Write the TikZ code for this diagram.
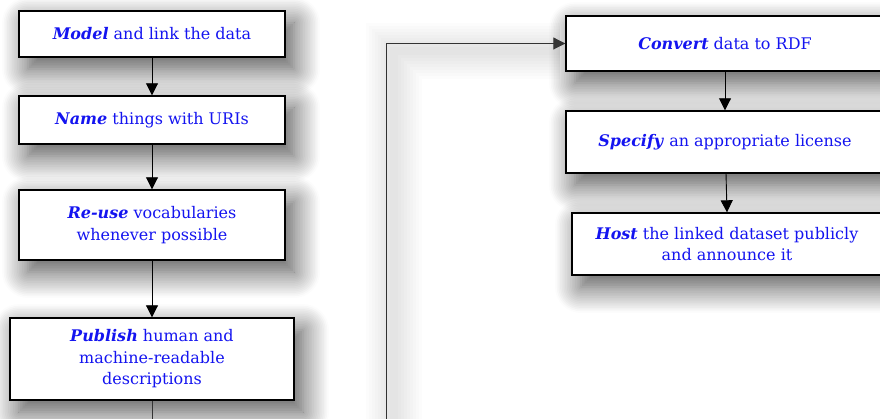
\documentclass[tikz,border=0pt]{standalone}
\usepackage{fontspec}
\setmainfont{DejaVu Serif}
\usetikzlibrary{arrows.meta,shadows.blur}
\definecolor{txtblue}{RGB}{20,20,240}
\tikzset{
  stepbox/.style={draw=black, line width=1.4pt, fill=white, align=center,
    font=\fontsize{16}{21.5}\selectfont, text=txtblue, inner sep=2pt,
    blur shadow={shadow xshift=9pt, shadow yshift=-12pt, shadow blur radius=26pt,
      shadow blur steps=16, shadow opacity=70}},
  flow/.style={draw=black, line width=0.9pt, -{Triangle[length=12pt,width=12pt]}},
  loop/.style={draw=black!80, line width=0.9pt, -{Triangle[length=12pt,width=12pt]}},
}
\newcommand{\kw}[1]{\textbf{\textit{#1}}}
\begin{document}
\begin{tikzpicture}[x=1pt,y=-1pt]
\useasboundingbox (0,0) rectangle (880,419);
\clip (0,0) rectangle (880,419);
% faint shadow of the loop line
\foreach \w in {56,50,...,8}{
  \draw[black, opacity=0.012, line width=\w pt] (394,460) -- (394,51) -- (560,51);
}
\node[stepbox, minimum width=266pt, minimum height=46pt] (model) at (152,34) {\kw{Model} and link the data};
\node[stepbox, minimum width=266pt, minimum height=48pt] (name) at (152,120) {\kw{Name} things with URIs};
\node[stepbox, minimum width=266pt, minimum height=70pt] (reuse) at (152,225) {\kw{Re-use} vocabularies\\whenever possible};
\node[stepbox, minimum width=284pt, minimum height=82pt] (publish) at (152,359) {\kw{Publish} human and\\machine-readable\\descriptions};
\node[stepbox, minimum width=318pt, minimum height=55pt] (convert) at (725,43.5) {\kw{Convert} data to RDF};
\node[stepbox, minimum width=318pt, minimum height=62pt] (specify) at (725,142) {\kw{Specify} an appropriate license};
\node[stepbox, minimum width=310pt, minimum height=62pt] (host) at (727,244) {\kw{Host} the linked dataset publicly\\and announce it};
\coordinate (offA) at (152,450);
\coordinate (offB) at (386,450);
\draw[flow] (model) -- (name);
\draw[flow] (name) -- (reuse);
\draw[flow] (reuse) -- (publish);
\draw[loop] (publish.south) -- (offA) -- (offB) |- (convert.west);
\draw[flow] (convert.south) -- (specify.north);
\draw[flow] (726,173) -- (host.north);
\end{tikzpicture}
\end{document}
